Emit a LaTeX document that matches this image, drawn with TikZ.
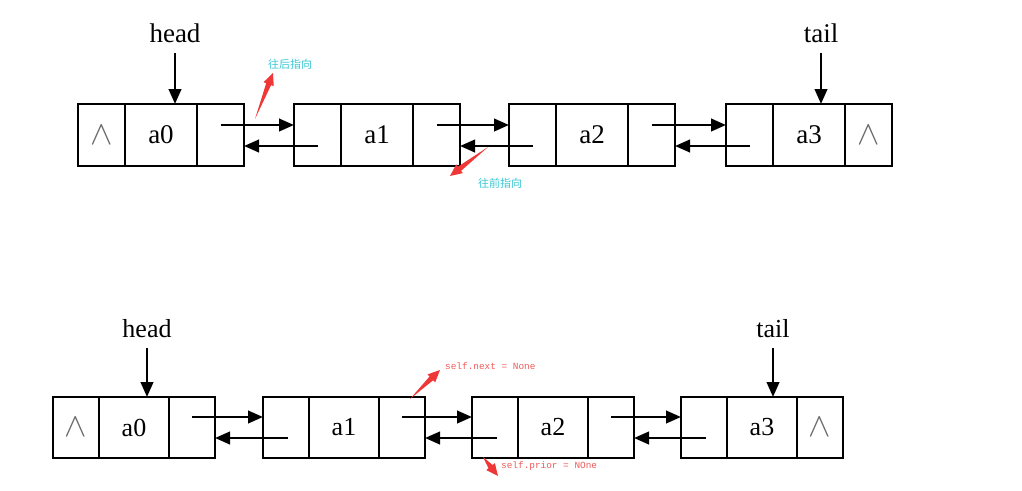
\documentclass[tikz,border=0pt]{standalone}
\usepackage{fontspec}
\setmainfont{Liberation Serif}
\newfontfamily\cjkfont{Noto Sans CJK SC}
\newfontfamily\codefont{Liberation Mono}
\usetikzlibrary{arrows.meta,calc}
\definecolor{annred}{RGB}{240,55,55}
\definecolor{codered}{RGB}{240,90,90}
\definecolor{anncyan}{RGB}{60,200,212}
\definecolor{nilgray}{RGB}{105,105,105}
\newcommand\listnode[7]{%
  \node[cell, minimum width=#4, minimum height=#6, anchor=north west] (#1p) at (#2,#3) {};
  \node[cell, minimum width=#5, minimum height=#6, anchor=west] (#1d) at (#1p.east) {#7};
  \node[cell, minimum width=#4, minimum height=#6, anchor=west] (#1n) at (#1d.east) {};}
\newcommand\redarrow[2]{%
  \coordinate (H) at ($(#2)!12pt!(#1)$);
  \fill[annred] (#1) -- ($(H)!2.6pt!90:(#2)$) -- ($(H)!5.5pt!90:(#2)$) -- (#2)
     -- ($(H)!5.5pt!-90:(#2)$) -- ($(H)!2.6pt!-90:(#2)$) -- cycle;}
\begin{document}
\begin{tikzpicture}[x=1pt,y=-1pt,
  cell/.style={draw, line width=2.6pt, outer sep=0pt, inner sep=0pt},
  link/.style={line width=2.5pt, -{Triangle[length=15pt,width=12.5pt]}},
  ptr/.style={inner sep=0pt},
  nil/.style={text=nilgray, font=\fontsize{24}{24}\selectfont},
  cnote/.style={text=anncyan, font=\cjkfont\fontsize{11}{12}\selectfont, inner sep=0pt},
  rnote/.style={text=codered, font=\codefont\fontsize{9.4}{10}\selectfont, inner sep=0pt}]
\useasboundingbox (0,0) rectangle (1022,490);

% ---------- top list ----------
\begin{scope}[font=\fontsize{27}{30}\selectfont]
\listnode{ta}{78}{104}{47pt}{72pt}{62pt}{a0}
\listnode{tb}{294}{104}{47pt}{72pt}{62pt}{a1}
\listnode{tc}{509}{104}{47pt}{72pt}{62pt}{a2}
\listnode{td}{726}{104}{47pt}{72pt}{62pt}{a3}
\node[ptr, anchor=south] (thead) at (175,43) {head};
\node[ptr, anchor=south] (ttail) at (821,43) {tail};
\end{scope}
\node[nil] at (tap) {\scalebox{1.35}{$\wedge$}};
\node[nil] at (tdn) {\scalebox{1.35}{$\wedge$}};
\draw[link] ([yshift=-10pt]thead.south) -- (thead.south |- tad.north);
\draw[link] ([yshift=-10pt]ttail.south) -- (ttail.south |- tdd.north);
\foreach \a/\b in {ta/tb, tb/tc, tc/td}{
  \coordinate (f) at ($(\a n.north west)+(24,21)$);
  \draw[link] (f) -- (f -| \b p.west);
  \coordinate (g) at ($(\b p.north west)+(24,42)$);
  \draw[link] (g) -- (g -| \a n.east);
}

% top annotations
\node[cnote, anchor=west] (n1) at (268,64) {往后指向};
\node[cnote, anchor=west] (n2) at (478,183) {往前指向};
\coordinate (s1) at (255,119);
\coordinate (e1) at (273,73);
\redarrow{s1}{e1}
\coordinate (s2) at (488,147);
\coordinate (e2) at (450,176);
\redarrow{s2}{e2}

% ---------- bottom list ----------
\begin{scope}[font=\fontsize{26}{29}\selectfont]
\listnode{ba}{53}{397}{46pt}{70pt}{61pt}{a0}
\listnode{bb}{263}{397}{46pt}{70pt}{61pt}{a1}
\listnode{bc}{472}{397}{46pt}{70pt}{61pt}{a2}
\listnode{bd}{681}{397}{46pt}{70pt}{61pt}{a3}
\node[ptr, anchor=south] (bhead) at (147,338) {head};
\node[ptr, anchor=south] (btail) at (773,338) {tail};
\end{scope}
\node[nil] at (bap) {\scalebox{1.35}{$\wedge$}};
\node[nil] at (bdn) {\scalebox{1.35}{$\wedge$}};
\draw[link] ([yshift=-10pt]bhead.south) -- (bhead.south |- bad.north);
\draw[link] ([yshift=-10pt]btail.south) -- (btail.south |- bdd.north);
\foreach \a/\b in {ba/bb, bb/bc, bc/bd}{
  \coordinate (f) at ($(\a n.north west)+(23,20)$);
  \draw[link] (f) -- (f -| \b p.west);
  \coordinate (g) at ($(\b p.north west)+(25,41)$);
  \draw[link] (g) -- (g -| \a n.east);
}

% bottom annotations
\node[rnote, anchor=west] (n3) at (445,366) {self.next = None};
\node[rnote, anchor=west] (n4) at (501,466) {self.prior = NOne};
\coordinate (s3) at (410,399);
\coordinate (e3) at (440,370);
\redarrow{s3}{e3}
\coordinate (s4) at (483,457);
\coordinate (e4) at (498,476);
\redarrow{s4}{e4}
\end{tikzpicture}
\end{document}
